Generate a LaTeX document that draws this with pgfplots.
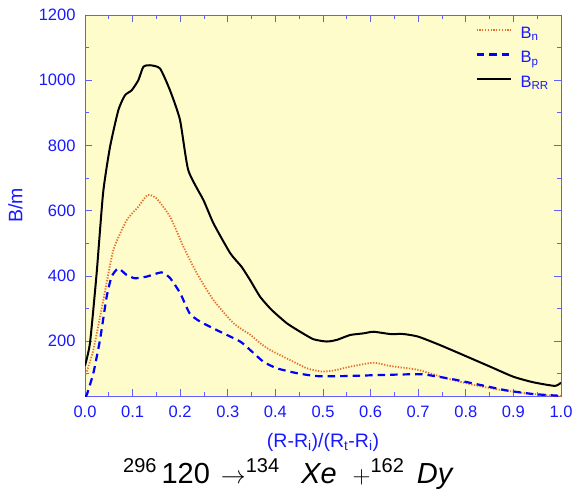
\documentclass[border=0pt]{standalone}
\usepackage{pgfplots}
\pgfplotsset{compat=1.18}
\usepackage{fontspec}
\setmainfont{Liberation Sans}
\setsansfont{Liberation Sans}
\definecolor{bgyel}{RGB}{255,252,204}
\definecolor{axblue}{RGB}{95,95,255}
\definecolor{lblblue}{RGB}{25,25,255}
\definecolor{orn}{RGB}{228,112,45}
\newcommand\sups[1]{\raisebox{10.5pt}{\fontsize{20}{20}\selectfont #1}}
\begin{document}
\begin{tikzpicture}
\begin{axis}[
  name=ax,
  scale only axis, width=476pt, height=381pt,
  xmin=0, xmax=1, ymin=32, ymax=1200,
  axis background/.style={fill=bgyel},
  axis line style={axblue, line width=0.8pt},
  every tick/.style={axblue, line width=0.8pt},
  major tick length=7pt, minor tick length=4pt,
  tick align=inside,
  xtick={0,0.1,...,1.0}, minor xtick={0.05,0.15,...,0.95},
  ytick={200,400,...,1200}, minor ytick={100,300,...,1100},
  xticklabel style={yshift=-6pt, /pgf/number format/fixed, /pgf/number format/fixed zerofill, /pgf/number format/precision=1},
  yticklabel style={xshift=-6pt, /pgf/number format/fixed, /pgf/number format/1000 sep={}},
  /pgf/number format/assume math mode=true,
  tick label style={font=\fontsize{16.5}{18}\selectfont, text=lblblue},
  xlabel={(R-R\textsubscript{i})/(R\textsubscript{t}-R\textsubscript{i})},
  ylabel={B/m},
  every axis x label/.style={at={(axis description cs:0.5,-0.1207)}, anchor=center,
    font=\fontsize{19.5}{21}\selectfont, text=lblblue},
  every axis y label/.style={at={(axis description cs:-0.146,0.5)}, anchor=center, rotate=90,
    font=\fontsize{19.5}{21}\selectfont, text=lblblue},
  legend style={draw=none, fill=none, inner sep=0pt, at={(axis description cs:1,1)},
    anchor=north east, xshift=-9pt, yshift=-8pt,
    font=\fontsize{16.5}{18}\selectfont, text=lblblue, row sep=0pt, column sep=6pt,
    nodes={text height=12pt, text depth=6.5pt, inner sep=3pt}},
  legend cell align=left,
  legend image code/.code={\draw[#1] (0pt,5.5pt) -- (34pt,5.5pt);},
]
\addplot[orn, line width=1.8pt, dash pattern=on 1.3pt off 1.5pt, smooth, tension=0.35] coordinates {
(0,91) (0.0175,173) (0.0385,326) (0.0595,479) (0.0875,571) (0.112,612) (0.131,648) (0.15,638)
(0.179,581) (0.207,489) (0.235,408) (0.27,326) (0.312,255) (0.347,220) (0.368,194)
(0.389,173) (0.431,142) (0.466,117) (0.497,107) (0.522,110) (0.557,122) (0.606,134) (0.641,124)
(0.70,112) (0.76,86) (0.816,66) (0.872,51) (0.928,40) (0.99,32) (1.0,32)
};
\addlegendentry{B\textsubscript{n}}
\addplot[blue, line width=2.2pt, dash pattern=on 7.5pt off 5pt, smooth, tension=0.35] coordinates {
(0,32) (0.0035,35) (0.0175,102) (0.0315,204) (0.0455,336) (0.056,398) (0.07,423) (0.0875,403)
(0.105,393) (0.1295,398) (0.161,411) (0.179,393) (0.20,347) (0.22,285) (0.242,260) (0.284,229)
(0.326,199) (0.347,173) (0.375,137) (0.403,117) (0.445,102) (0.487,93) (0.543,93) (0.613,96)
(0.697,99) (0.718,97) (0.774,83) (0.83,66) (0.886,49) (0.942,38) (0.994,33) (1.0,33)
};
\addlegendentry{B\textsubscript{p}}
\addplot[black, line width=2pt, smooth, tension=0.35] coordinates {
(0,125) (0.0105,195) (0.0245,409) (0.038,654) (0.0525,795) (0.07,908) (0.084,954) (0.098,969)
(0.112,1000) (0.1225,1041) (0.1365,1046) (0.1576,1036) (0.1786,969) (0.1996,878) (0.217,724)
(0.249,632) (0.27,561) (0.305,470) (0.329,428) (0.347,387) (0.368,336) (0.392,296) (0.424,255)
(0.452,229) (0.48,206) (0.508,199) (0.529,204) (0.557,219) (0.585,224) (0.606,229) (0.641,222)
(0.669,222) (0.70,214) (0.746,188) (0.802,153) (0.851,122) (0.90,91) (0.942,74) (0.987,63) (1.0,73)
};
\addlegendentry{B\textsubscript{RR}}
\end{axis}
\node[anchor=base west, inner sep=0pt, font=\fontsize{29}{30}\selectfont] at ([xshift=38pt,yshift=-87pt]ax.south west)
  {\sups{296}\hspace{5pt}120\hspace{11pt}$\rightarrow$\sups{134}\hspace{22pt}\textit{Xe}\hspace{16pt}$+$\sups{162}\hspace{13pt}\textit{Dy}};
\pgfresetboundingbox
\path[use as bounding box] ([xshift=-85pt,yshift=-93pt]ax.south west) rectangle ([xshift=13pt,yshift=15pt]ax.north east);
\end{tikzpicture}
\end{document}
